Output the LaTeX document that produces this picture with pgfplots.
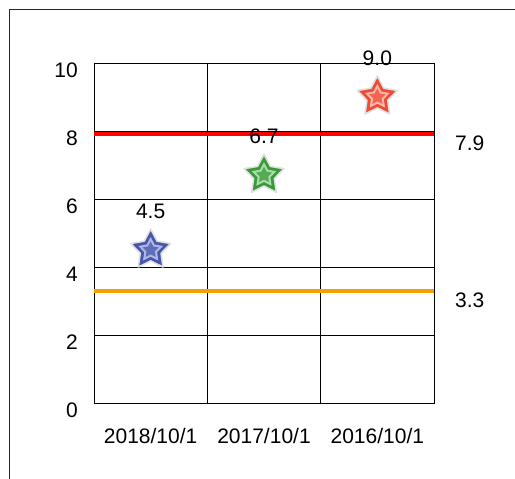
\documentclass[border=0pt]{standalone}
\usepackage{fontspec}
\setmainfont{Liberation Sans}
\usepackage{pgfplots}
\pgfplotsset{compat=1.18}

\definecolor{sBd}{HTML}{4656AA}
\definecolor{sBl}{HTML}{AEB8E6}
\definecolor{sGd}{HTML}{3A9A3A}
\definecolor{sGl}{HTML}{A8DCA8}
\definecolor{sRd}{HTML}{F04A36}
\definecolor{sRl}{HTML}{FBB8A8}
\definecolor{lineorange}{RGB}{245,160,0}

\newcommand\starpath[1]{%
  \pgfmathsetlengthmacro\Ro{#1}%
  \pgfmathsetlengthmacro\Ri{0.52*#1}%
  \pgfpathmoveto{\pgfpointpolar{90}{\Ro}}%
  \pgfpathlineto{\pgfpointpolar{126}{\Ri}}%
  \pgfpathlineto{\pgfpointpolar{162}{\Ro}}%
  \pgfpathlineto{\pgfpointpolar{198}{\Ri}}%
  \pgfpathlineto{\pgfpointpolar{234}{\Ro}}%
  \pgfpathlineto{\pgfpointpolar{270}{\Ri}}%
  \pgfpathlineto{\pgfpointpolar{306}{\Ro}}%
  \pgfpathlineto{\pgfpointpolar{342}{\Ri}}%
  \pgfpathlineto{\pgfpointpolar{18}{\Ro}}%
  \pgfpathlineto{\pgfpointpolar{54}{\Ri}}%
  \pgfpathclose}
\newcommand\defstar[3]{%
  \pgfdeclareplotmark{#1}{%
    \pgfsetlinewidth{1.6pt}\pgfsetroundjoin
    \pgfsetstrokecolor{black!12}\pgfsetfillcolor{#2}%
    \starpath{21pt}\pgfusepath{stroke,fill}%
    \pgfsetfillcolor{#3}%
    \starpath{13pt}\pgfusepath{fill}%
    \pgfsetfillcolor{#2!75!#3}%
    \starpath{8.5pt}\pgfusepath{fill}%
  }}
\defstar{starB}{sBd}{sBl}
\defstar{starG}{sGd}{sGl}
\defstar{starR}{sRd}{sRl}

\begin{document}
\begin{tikzpicture}
\begin{axis}[
  scale only axis, width=340pt, height=340pt,
  xmin=-0.5, xmax=2.5, ymin=0, ymax=10,
  xtick={0,1,2}, xticklabels={2018/10/1,2017/10/1,2016/10/1},
  ytick={0,2,4,6,8,10},
  extra x ticks={0.5,1.5}, extra x tick labels={},
  extra x tick style={grid=major, major tick length=0pt},
  ymajorgrids,
  grid style={black, line width=0.8pt},
  axis line style={black, line width=0.8pt},
  major tick length=0pt,
  /pgf/number format/assume math mode=true,
  ticklabel style={font=\fontsize{21}{24}\selectfont},
  xticklabel style={anchor=center, inner sep=0pt, yshift=-33pt},
  yticklabel style={anchor=east, inner sep=0pt, xshift=-16pt, yshift=-7pt},
  nodes near coords={\pgfmathprintnumber[fixed,fixed zerofill,precision=1]{\pgfplotspointmeta}},
  every node near coord/.append style={anchor=center, yshift=39pt, text=black, inner sep=0pt, font=\fontsize{21}{24}\selectfont},
  clip=false,
]
\addplot[red, line width=4pt, forget plot, nodes near coords={}] coordinates {(-0.5,7.9) (2.5,7.9)};
\addplot[lineorange, line width=4pt, forget plot, nodes near coords={}] coordinates {(-0.5,3.3) (2.5,3.3)};
\addplot[only marks, mark=starB] coordinates {(0,4.5)};
\addplot[only marks, mark=starG] coordinates {(1,6.7)};
\addplot[only marks, mark=starR] coordinates {(2,9.0)};
\node[anchor=west, inner sep=0pt, xshift=21pt, yshift=-9pt, font=\fontsize{21}{24}\selectfont] at (axis cs:2.5,7.9) {7.9};
\node[anchor=west, inner sep=0pt, xshift=21pt, yshift=-9pt, font=\fontsize{21}{24}\selectfont] at (axis cs:2.5,3.3) {3.3};
\end{axis}
\draw[black!85, line width=1pt] (-84pt,-76pt) -- (-84pt,393pt) -- (421pt,393pt);
\pgfresetboundingbox
\useasboundingbox (-94pt,-76pt) rectangle (421pt,403pt);
\end{tikzpicture}
\end{document}
